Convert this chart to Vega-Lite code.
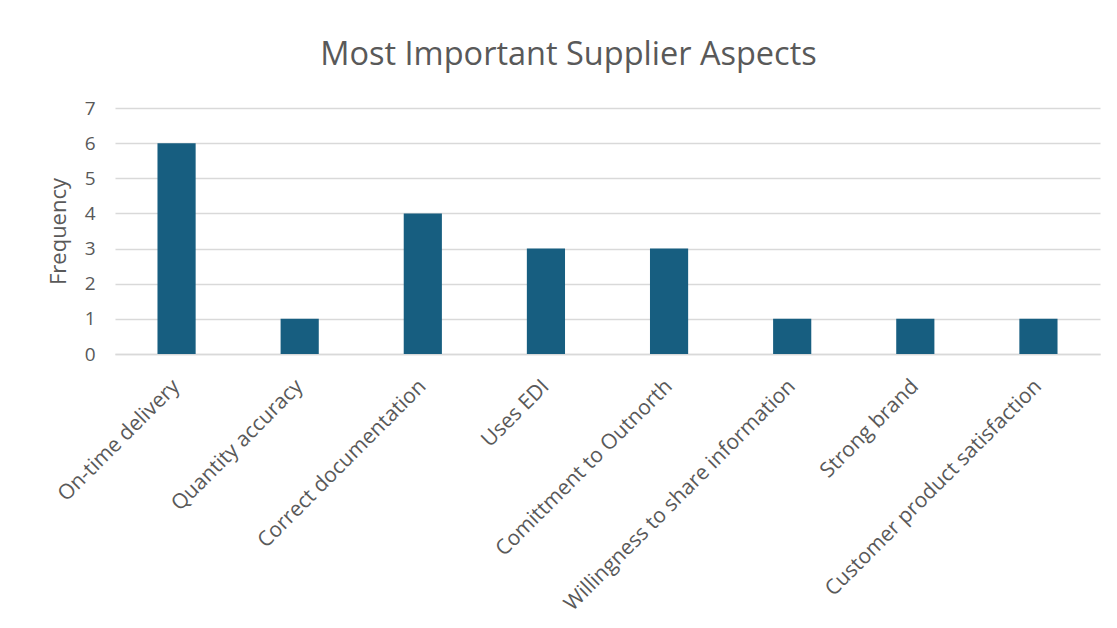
{
  "$schema": "https://vega.github.io/schema/vega-lite/v6.json",
  "autosize": "none",
  "width": 985,
  "height": 246,
  "padding": {"left": 115, "top": 108, "right": 17, "bottom": 274},
  "background": "white",
  "title": {
    "text": "Most Important Supplier Aspects",
    "font": "Open Sans",
    "fontSize": 32.5,
    "fontWeight": "normal",
    "color": "#595959",
    "anchor": "middle",
    "dx": -39,
    "offset": 28
  },
  "data": {
    "values": [
      {"aspect": "On-time delivery", "frequency": 6},
      {"aspect": "Quantity accuracy", "frequency": 1},
      {"aspect": "Correct documentation", "frequency": 4},
      {"aspect": "Uses EDI", "frequency": 3},
      {"aspect": "Comittment to Outnorth", "frequency": 3},
      {"aspect": "Willingness to share information", "frequency": 1},
      {"aspect": "Strong brand", "frequency": 1},
      {"aspect": "Customer product satisfaction", "frequency": 1}
    ]
  },
  "mark": {"type": "bar", "color": "#175E80"},
  "encoding": {
    "x": {
      "field": "aspect",
      "type": "nominal",
      "sort": null,
      "scale": {"paddingInner": 0.69, "paddingOuter": 0.345},
      "axis": {
        "title": null,
        "labelAngle": -45,
        "labelAlign": "right",
        "labelBaseline": "middle",
        "labelFont": "Open Sans",
        "labelFontSize": 21,
        "labelColor": "#595959",
        "labelPadding": 29,
        "labelOffset": 0,
        "labelLimit": 500,
        "labelOverlap": false,
        "ticks": false,
        "domainColor": "#D9D9D9",
        "domainWidth": 1.5
      }
    },
    "y": {
      "field": "frequency",
      "type": "quantitative",
      "scale": {"domain": [0, 7], "nice": false},
      "axis": {
        "title": "Frequency",
        "titleFont": "Open Sans",
        "titleFontSize": 22,
        "titleFontWeight": "normal",
        "titleColor": "#595959",
        "titlePadding": 14,
        "values": [0, 1, 2, 3, 4, 5, 6, 7],
        "labelOverlap": false,
        "labelFont": "Open Sans",
        "labelFontSize": 19,
        "labelColor": "#595959",
        "labelPadding": 20,
        "ticks": false,
        "domain": false,
        "gridColor": "#D9D9D9",
        "gridWidth": 1.5
      }
    }
  },
  "config": {"view": {"stroke": null}}
}
